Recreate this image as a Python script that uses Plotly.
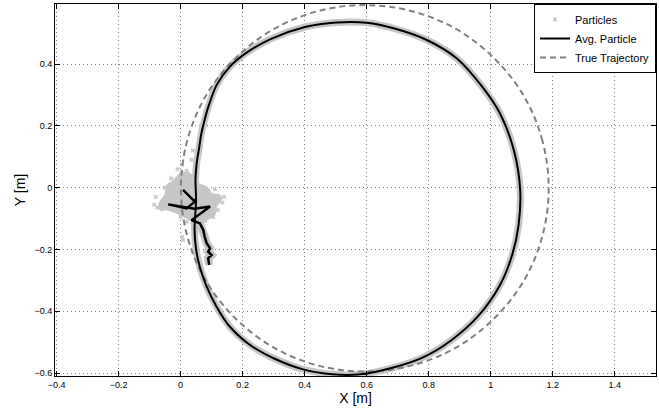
import plotly.graph_objects as go

# ---- data ----
# True trajectory (dashed circle), sampled points
true_x = [1.187, 1.167, 1.108, 1.013, 0.891, 0.747, 0.594, 0.441, 0.298, 0.175, 0.080, 0.021,
          0.001, 0.021, 0.080, 0.175, 0.298, 0.441, 0.594, 0.747, 0.891, 1.013, 1.108, 1.167, 1.187]
true_y = [-0.002, 0.151, 0.295, 0.417, 0.512, 0.571, 0.591, 0.571, 0.512, 0.417, 0.295, 0.151,
          -0.002, -0.155, -0.299, -0.421, -0.516, -0.575, -0.595, -0.575, -0.516, -0.421, -0.299, -0.155, -0.002]

# Avg. particle: initial squiggle / cluster part
start_x = [0.092, 0.089, 0.100, 0.089, 0.095, 0.084, 0.078, 0.073, 0.062, 0.035, 0.095, 0.045,
           -0.040, 0.019, 0.046, 0.030, 0.008, 0.041, 0.050]
start_y = [-0.250, -0.228, -0.218, -0.207, -0.196, -0.180, -0.159, -0.137, -0.115, -0.105, -0.061, -0.068,
           -0.054, -0.067, -0.045, -0.030, -0.007, -0.040, -0.040]

# Avg. particle: main loop (clockwise)
loop_x = [0.050, 0.048, 0.052, 0.060, 0.066, 0.074, 0.086, 0.116, 0.159, 0.213, 0.290,
          0.401, 0.503, 0.600, 0.690, 0.794, 0.890, 0.970, 1.030, 1.075, 1.095, 1.090, 1.070,
          1.030, 0.960, 0.870, 0.780, 0.686, 0.580, 0.490, 0.395, 0.300, 0.224, 0.159,
          0.116, 0.084, 0.062, 0.050, 0.045, 0.047, 0.050]
loop_y = [-0.040, 0.025, 0.080, 0.130, 0.170, 0.205, 0.251, 0.332, 0.392, 0.437, 0.481,
          0.520, 0.535, 0.534, 0.515, 0.478, 0.419, 0.330, 0.240, 0.120, -0.007, -0.120, -0.215,
          -0.315, -0.415, -0.496, -0.550, -0.582, -0.604, -0.604, -0.588, -0.552, -0.509, -0.450,
          -0.385, -0.320, -0.256, -0.200, -0.137, -0.090, -0.040]

# Particle cloud outline near the origin
cloud_x = [-0.002, 0.030, 0.041, 0.057, 0.084, 0.100, 0.127, 0.132, 0.116, 0.111, 0.095, 0.073, 0.052,
           0.030, -0.002, -0.024, -0.045, -0.072, -0.067, -0.051, -0.045, -0.029, -0.013]
cloud_y = [0.052, 0.047, 0.036, 0.014, 0.003, -0.018, -0.024, -0.040, -0.061, -0.088, -0.099, -0.110, -0.115,
           -0.105, -0.088, -0.078, -0.072, -0.067, -0.045, -0.024, 0.009, 0.019, 0.036]

# Scattered particles
part_x = [-0.085, -0.080, -0.075, 0.140, 0.135, 0.120, 0.105, 0.090, -0.010, 0.005, 0.020, -0.030,
          -0.050, 0.000, 0.020, 0.060, 0.008, 0.005, 0.035, 0.040, 0.045, 0.110, -0.060, 0.080]
part_y = [-0.055, -0.030, -0.065, -0.030, -0.048, -0.072, -0.095, -0.010, 0.060, 0.075, 0.055, 0.030,
          0.000, -0.095, -0.110, -0.120, -0.170, -0.160, 0.090, 0.120, 0.060, -0.005, -0.070, -0.108]

PGREY = "#c6c6c6"
fig = go.Figure()

# particle cloud fill
fig.add_trace(go.Scatter(x=cloud_x, y=cloud_y, mode="lines", fill="toself", fillcolor=PGREY,
                         line=dict(color=PGREY, width=1), line_shape="spline",
                         showlegend=False, hoverinfo="skip"))
# particle band along the paths
fig.add_trace(go.Scatter(x=loop_x, y=loop_y, mode="lines", line=dict(color=PGREY, width=7, smoothing=0.8),
                         line_shape="spline", showlegend=False, hoverinfo="skip"))
fig.add_trace(go.Scatter(x=start_x[:10], y=start_y[:10], mode="lines", line=dict(color=PGREY, width=8),
                         showlegend=False, hoverinfo="skip"))
# scattered particles (legend entry)
fig.add_trace(go.Scatter(x=part_x, y=part_y, mode="markers", name="Particles",
                         marker=dict(symbol="x", size=4, color=PGREY), legendrank=1))
# true trajectory
fig.add_trace(go.Scatter(x=true_x, y=true_y, mode="lines", name="True Trajectory",
                         line=dict(color="#808080", width=2, dash="6px,4px"), line_shape="spline",
                         legendrank=3))
# avg particle
fig.add_trace(go.Scatter(x=start_x, y=start_y, mode="lines", name="Avg. Particle",
                         line=dict(color="black", width=2.5), legendgroup="avg", showlegend=False))
fig.add_trace(go.Scatter(x=loop_x, y=loop_y, mode="lines", name="Avg. Particle",
                         line=dict(color="black", width=2, smoothing=0.8), line_shape="spline",
                         legendgroup="avg", legendrank=2))

axis_common = dict(
    showline=True, linecolor="black", linewidth=1, mirror="ticks",
    ticks="inside", ticklen=5, tickcolor="black", tickwidth=1,
    showgrid=True, gridcolor="#808080", griddash="1px,3px", gridwidth=1,
    zeroline=False, tickfont=dict(size=9, color="black", family="Liberation Sans, Arial"),
    dtick=0.2, tick0=0, automargin=False,
)

fig.update_layout(
    width=659, height=409,
    margin=dict(l=55, r=3, t=4, b=33),
    plot_bgcolor="white", paper_bgcolor="white",
    font=dict(family="Liberation Sans, Arial", color="black"),
    xaxis=dict(range=[-0.405, 1.533], title=dict(text="X [m]", font=dict(size=14), standoff=3), **axis_common),
    yaxis=dict(range=[-0.6094, 0.5945], title=dict(text="Y [m]", font=dict(size=14), standoff=5), **axis_common),
    legend=dict(x=1, y=1, xanchor="right", yanchor="top", bgcolor="white", bordercolor="black",
                borderwidth=1, font=dict(size=11), itemwidth=30, tracegroupgap=0),
    showlegend=True,
)

fig.write_html("out.html", config={"displayModeBar": False},
               post_script="document.body.style.margin='0';document.body.style.overflow='hidden';")
